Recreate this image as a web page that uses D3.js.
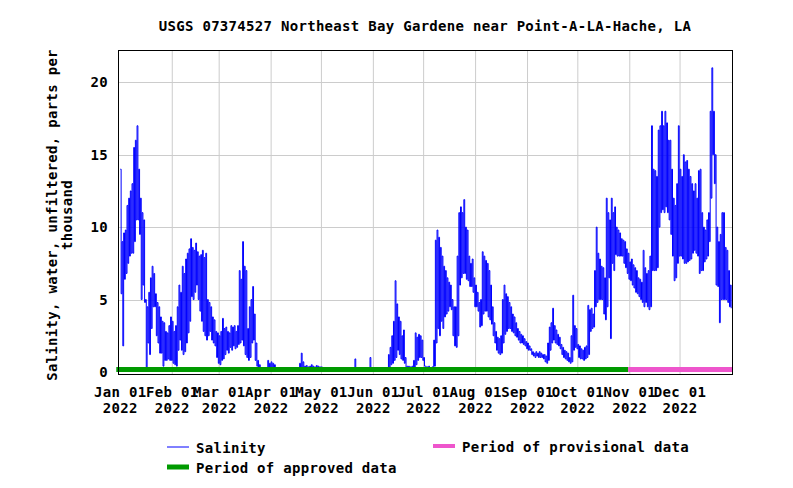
<!DOCTYPE html>
<html><head><meta charset="utf-8">
<script src="https://cdn.jsdelivr.net/npm/d3@7"></script>
<style>
body{margin:0;background:#fff;}
svg text{font-family:"DejaVu Sans Mono",monospace;font-weight:bold;font-size:14px;fill:#000;letter-spacing:0.3px;}
</style></head><body>
<svg id="chart" width="793" height="488"></svg>
<script>
const title = "USGS 07374527 Northeast Bay Gardene near Point-A-LA-Hache, LA";
const yTitleLines = ["Salinity, water, unfiltered, parts per", "thousand"];
const monthTicks = ["2022-01-01","2022-02-01","2022-03-01","2022-04-01","2022-05-01","2022-06-01",
                    "2022-07-01","2022-08-01","2022-09-01","2022-10-01","2022-11-01","2022-12-01"];
const monthLabels = ["Jan 01","Feb 01","Mar 01","Apr 01","May 01","Jun 01",
                     "Jul 01","Aug 01","Sep 01","Oct 01","Nov 01","Dec 01"];
const yearLabel = "2022";
const yTicks = [0, 5, 10, 15, 20];
const xDomain = ["2022-01-01", "2023-01-01"];
const yDomain = [-0.14, 22.23];
const seriesStart = "2022-01-01";
// daily low / high of the salinity trace (ppt), Jan 1 .. Dec 31 2022
const dailyMin = [
 5.4,1.8,6.4,6.8,7.5,8.0,8.2,8.2,9.0,10.5,
 10.5,9.5,5.0,6.0,4.8,0.3,2.0,1.2,3.0,4.5,
 4.5,2.5,2.0,1.3,1.3,0.4,0.8,0.8,0.9,0.8,
 0.8,0.6,0.5,0.4,1.5,2.2,1.5,1.2,1.4,2.0,
 2.7,3.5,5.2,5.0,5.5,6.0,5.0,4.2,3.5,2.8,
 2.5,2.2,2.5,2.8,2.2,2.0,1.8,1.0,0.6,0.5,
 0.8,0.9,1.2,1.5,1.3,1.7,1.5,1.8,1.6,1.7,
 1.9,2.0,2.2,1.8,1.2,1.0,0.8,1.0,2.0,2.2,
 0.8,0.4,0.3,0.2,0.15,0.15,0.1,0.15,0.3,0.3,
 0.25,0.3,0.2,0.15,0.15,0.1,0.12,0.1,0.15,0.1,
 0.12,0.1,0.15,0.1,0.12,0.1,0.15,0.2,0.3,0.3,
 0.2,0.25,0.2,0.2,0.25,0.2,0.2,0.25,0.2,0.2,
 0.15,0.1,0.08,0.05,0.05,0.08,0.05,0.05,0.05,0.05,
 0.05,0.05,0.05,0.05,0.05,0.05,0.05,0.05,0.05,0.05,
 0.1,0.05,0.05,0.05,0.05,0.05,0.05,0.05,0.05,0.1,
 0.05,0.05,0.05,0.05,0.05,0.05,0.05,0.05,0.05,0.1,
 0.3,0.5,0.6,0.8,1.0,1.5,1.2,0.9,0.8,0.6,
 0.3,0.2,0.2,0.2,0.2,0.3,0.5,0.8,1.0,1.0,
 0.8,0.4,0.2,0.2,0.2,0.2,0.2,0.4,2.0,3.0,
 2.5,3.5,3.0,3.8,4.0,4.2,4.5,4.3,2.5,1.8,
 1.7,2.5,6.0,6.5,6.8,6.8,6.4,6.3,5.9,5.9,
 5.5,4.5,4.5,4.2,3.1,3.2,4.0,4.2,4.2,3.8,
 3.6,3.3,2.5,2.0,1.5,1.3,1.2,1.3,2.0,2.6,
 2.8,3.0,3.0,2.8,2.7,2.5,2.4,2.2,2.0,2.0,
 1.9,1.8,1.6,1.5,1.5,1.2,1.1,1.0,1.1,1.0,
 1.0,1.0,0.9,0.7,0.6,0.8,1.5,2.0,2.2,2.0,
 1.9,1.8,1.6,1.2,1.0,0.9,0.8,0.7,0.6,0.7,
 1.5,1.7,1.6,1.0,0.9,0.9,0.8,0.9,1.0,1.2,
 2.8,3.0,3.1,4.5,4.8,5.0,5.0,5.0,4.0,3.6,
 4.5,6.5,2.3,7.5,7.0,8.1,8.0,8.0,8.0,8.0,
 7.5,7.2,6.8,6.4,6.3,6.0,5.8,5.5,5.4,5.2,
 5.0,4.8,4.5,4.8,4.5,4.3,4.5,7.0,7.0,7.0,
 7.2,10.0,11.0,11.2,11.0,11.4,11.0,10.5,9.5,8.0,
 6.3,6.5,7.5,8.0,8.0,7.8,7.5,7.5,7.6,7.7,
 7.8,8.2,8.4,8.2,8.0,6.8,7.0,7.0,7.6,7.8,
 8.0,9.0,12.0,15.0,13.0,6.0,5.9,3.4,5.0,5.0,
 5.0,5.0,4.8,4.5,4.4
];
const dailyMax = [
 14.0,9.0,9.6,9.8,11.5,12.0,12.5,13.0,15.5,16.0,
 17.0,14.0,12.0,11.0,10.5,5.0,4.5,5.5,6.5,7.3,
 6.8,5.4,4.8,4.5,3.8,3.5,3.4,2.8,2.7,3.2,
 3.8,3.5,2.8,3.2,4.5,6.0,5.5,7.3,6.8,7.8,
 8.2,8.5,9.2,8.6,8.4,8.9,8.3,8.0,8.1,8.4,
 7.9,8.2,5.0,4.8,4.5,3.8,3.6,2.8,2.7,2.5,
 2.8,3.7,3.0,3.1,2.8,2.7,3.2,3.1,3.2,2.8,
 3.2,7.0,6.4,9.0,7.3,7.0,3.0,4.5,5.0,5.9,
 4.0,2.0,0.8,0.5,0.3,0.3,0.3,0.3,0.8,0.6,
 0.7,0.6,0.5,0.3,0.25,0.25,0.3,0.2,0.3,0.25,
 0.3,0.2,0.3,0.25,0.3,0.2,0.3,0.6,1.3,0.7,
 0.4,0.45,0.35,0.4,0.5,0.4,0.35,0.45,0.4,0.35,
 0.35,0.2,0.15,0.1,0.12,0.15,0.1,0.1,0.12,0.1,
 0.1,0.12,0.1,0.1,0.12,0.1,0.1,0.12,0.1,0.15,
 0.9,0.15,0.1,0.12,0.1,0.1,0.12,0.1,0.15,1.0,
 0.15,0.1,0.12,0.1,0.1,0.12,0.1,0.15,0.2,0.3,
 1.2,1.7,2.5,3.5,6.3,4.7,3.8,3.5,2.5,2.9,
 1.0,0.4,0.4,0.35,0.4,0.8,2.7,2.4,2.6,2.5,
 2.2,1.0,0.4,0.35,0.4,0.3,0.35,2.2,9.1,9.8,
 9.3,8.6,8.0,7.3,7.0,6.5,6.2,6.0,5.0,4.5,
 4.5,8.0,11.0,11.4,11.0,11.9,10.0,9.8,8.0,7.5,
 7.8,6.5,6.0,5.5,4.8,5.0,8.3,8.0,7.7,7.5,
 7.0,6.0,4.5,3.4,2.8,2.4,2.3,2.5,5.0,6.0,
 5.4,5.2,4.8,4.5,4.0,3.8,3.4,3.0,2.8,2.6,
 2.5,2.3,2.1,2.0,1.8,1.6,1.4,1.3,1.4,1.3,
 1.4,1.3,1.2,1.2,1.1,2.0,3.1,3.4,4.4,3.2,
 2.9,2.6,2.4,1.9,1.7,1.5,1.4,1.3,1.0,2.5,
 5.3,3.2,3.0,1.9,1.8,1.6,1.5,1.7,1.8,4.6,
 4.3,4.4,4.0,7.0,10.0,8.2,7.8,7.3,7.2,6.5,
 12.0,11.0,10.5,12.0,11.0,11.4,10.0,9.8,9.6,9.2,
 9.1,9.0,8.5,8.2,7.6,7.8,7.4,7.2,7.0,6.5,
 6.4,6.2,8.4,7.2,6.8,7.0,8.0,17.0,14.0,13.9,
 13.5,16.7,17.0,18.0,17.0,18.0,17.2,16.0,16.0,14.0,
 12.0,11.5,13.0,17.0,14.0,13.5,15.0,14.5,14.6,14.0,
 13.5,13.0,12.5,13.0,12.0,13.9,14.0,11.0,10.0,9.8,
 10.5,11.0,18.0,21.0,18.0,15.0,10.0,9.0,9.5,11.0,
 11.0,8.6,8.4,7.0,6.0
];
const approvedPeriod = ["2022-01-01", "2022-10-31"];
const provisionalPeriod = ["2022-10-31", "2023-01-01"];
const legendLabels = ["Salinity", "Period of approved data", "Period of provisional data"];
const colors = {line: "#0000ff", approved: "#009a00", provisional: "#ee55cc", grid: "#cccccc"};

const parse = d3.utcParse("%Y-%m-%d");
const svg = d3.select("#chart");
const plot = {left: 118, right: 732, top: 50, bottom: 374};

const x = d3.scaleUtc().domain(xDomain.map(parse)).range([120.3, plot.right]);
const y = d3.scaleLinear().domain(yDomain).range([plot.bottom, plot.top]);

// series points: high then low for each day
const t0 = parse(seriesStart);
const points = [];
dailyMin.forEach((lo, i) => {
  points.push({t: d3.utcHour.offset(t0, i * 24), v: dailyMax[i]});
  points.push({t: d3.utcHour.offset(t0, i * 24 + 12), v: lo});
});

// grid
const g = svg.append("g");
g.selectAll("line.vg").data(monthTicks.slice(1)).join("line")
  .attr("x1", d => x(parse(d))).attr("x2", d => x(parse(d)))
  .attr("y1", plot.top).attr("y2", plot.bottom)
  .attr("stroke", colors.grid).attr("stroke-width", 1);
g.selectAll("line.hg").data(yTicks.filter(v => v > 0)).join("line")
  .attr("x1", plot.left).attr("x2", plot.right)
  .attr("y1", d => Math.round(y(d)) + 0.5).attr("y2", d => Math.round(y(d)) + 0.5)
  .attr("stroke", colors.grid).attr("stroke-width", 1);

// series line
svg.append("path").datum(points)
  .attr("fill", "none").attr("stroke", colors.line).attr("stroke-width", 1)
  .attr("d", d3.line().curve(d3.curveStepAfter).x(d => x(d.t)).y(d => y(d.v)));

// period bars
const barY = y(0) - 2.5;
svg.append("line")
  .attr("x1", x(parse(approvedPeriod[0])) - 4).attr("x2", x(parse(approvedPeriod[1])))
  .attr("y1", barY).attr("y2", barY)
  .attr("stroke", colors.approved).attr("stroke-width", 5);
svg.append("line")
  .attr("x1", x(parse(provisionalPeriod[0]))).attr("x2", x(parse(provisionalPeriod[1])))
  .attr("y1", barY).attr("y2", barY)
  .attr("stroke", colors.provisional).attr("stroke-width", 5);

// frame
svg.append("rect")
  .attr("x", plot.left + 0.5).attr("y", plot.top + 0.5)
  .attr("width", plot.right - plot.left).attr("height", plot.bottom - plot.top)
  .attr("fill", "none").attr("stroke", "#000").attr("stroke-width", 1);

// title
svg.append("text").attr("x", (plot.left + plot.right) / 2).attr("y", 31)
  .attr("text-anchor", "middle").text(title);

// y tick labels
svg.selectAll("text.yt").data(yTicks).join("text")
  .attr("x", 108).attr("y", d => y(d)).attr("dy", "0.36em")
  .attr("text-anchor", "end").text(d => d);

// x tick labels
const xl = svg.selectAll("g.xt").data(monthTicks).join("g")
  .attr("transform", d => `translate(${x(parse(d))},0)`);
xl.append("text").attr("y", 397).attr("text-anchor", "middle").text((d, i) => monthLabels[i]);
xl.append("text").attr("y", 413).attr("text-anchor", "middle").text(yearLabel);

// y title
const midY = (plot.top + plot.bottom) / 2 + 3;
svg.append("text").attr("transform", `translate(57,${midY}) rotate(-90)`)
  .attr("text-anchor", "middle").text(yTitleLines[0]);
svg.append("text").attr("transform", `translate(71.5,${midY}) rotate(-90)`)
  .attr("text-anchor", "middle").text(yTitleLines[1]);

// legend
const leg = [
  {x: 167, y: 447, w: 1, c: colors.line, label: legendLabels[0]},
  {x: 167, y: 467, w: 5, c: colors.approved, label: legendLabels[1]},
  {x: 433, y: 446, w: 4, c: colors.provisional, label: legendLabels[2]}
];
const lg = svg.selectAll("g.leg").data(leg).join("g");
lg.append("line").attr("x1", d => d.x).attr("x2", d => d.x + 22)
  .attr("y1", d => d.y).attr("y2", d => d.y)
  .attr("stroke", d => d.c).attr("stroke-width", d => d.w);
lg.append("text").attr("x", d => d.x + 29).attr("y", d => d.y + 5.5).text(d => d.label);
</script>
</body></html>
